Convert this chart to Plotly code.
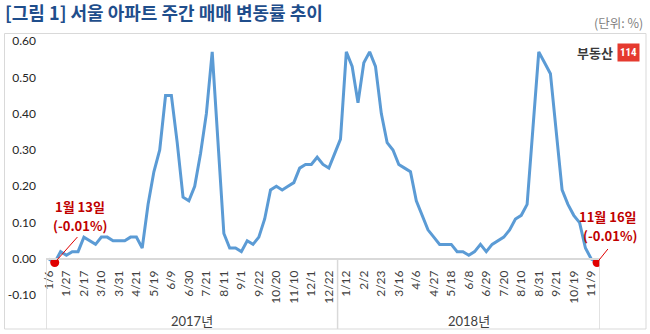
import plotly.graph_objects as go

# Weekly survey dates (missing holiday weeks are simply absent)
weeks_2017 = ["1/6", "1/13", "1/20", "1/27", "2/3", "2/10", "2/17", "2/24", "3/3", "3/10",
              "3/17", "3/24", "3/31", "4/7", "4/14", "4/21", "4/28", "5/12", "5/19", "5/26",
              "6/2", "6/9", "6/16", "6/23", "6/30", "7/7", "7/14", "7/21", "7/28", "8/4",
              "8/11", "8/18", "8/25", "9/1", "9/8", "9/15", "9/22", "9/29", "10/13", "10/20",
              "10/27", "11/3", "11/10", "11/17", "11/24", "12/1", "12/8", "12/15", "12/22", "12/29"]
weeks_2018 = ["1/5", "1/12", "1/19", "1/26", "2/2", "2/9", "2/16", "2/23", "3/2", "3/9",
              "3/16", "3/23", "3/30", "4/6", "4/13", "4/20", "4/27", "5/4", "5/11", "5/18",
              "5/25", "6/1", "6/8", "6/15", "6/22", "6/29", "7/6", "7/13", "7/20", "7/27",
              "8/3", "8/10", "8/17", "8/24", "8/31", "9/7", "9/14", "9/21", "10/5", "10/12",
              "10/19", "10/26", "11/2", "11/9", "11/16"]

# Weekly change of Seoul apartment sale prices (%)
chg_2017 = [0.00, -0.01, 0.02, 0.01, 0.02, 0.02, 0.06, 0.05, 0.04, 0.06,
            0.06, 0.05, 0.05, 0.05, 0.06, 0.06, 0.03, 0.15, 0.24, 0.30,
            0.45, 0.45, 0.32, 0.17, 0.16, 0.20, 0.29, 0.40, 0.57, 0.32,
            0.07, 0.03, 0.03, 0.02, 0.05, 0.04, 0.06, 0.11, 0.19, 0.20,
            0.19, 0.20, 0.21, 0.25, 0.26, 0.26, 0.28, 0.26, 0.25, 0.29]
chg_2018 = [0.33, 0.57, 0.53, 0.43, 0.54, 0.57, 0.53, 0.40, 0.32, 0.30,
            0.26, 0.25, 0.24, 0.16, 0.12, 0.08, 0.06, 0.04, 0.04, 0.04,
            0.02, 0.02, 0.01, 0.02, 0.04, 0.02, 0.04, 0.05, 0.06, 0.08,
            0.11, 0.12, 0.15, 0.36, 0.57, 0.54, 0.51, 0.35, 0.19, 0.15,
            0.12, 0.10, 0.03, 0.00, -0.01]

years = ["2017년", "2018년"]
y_ticks = [-0.10, 0.00, 0.10, 0.20, 0.30, 0.40, 0.50, 0.60]
y_tick_labels = ["-0.10", "0.00", "0.10", "0.20", "0.30", "0.40", "0.50", "0.60"]

# category keys carry the year so every week is unique
x_cat = [f"2017|{w}" for w in weeks_2017] + [f"2018|{w}" for w in weeks_2018]
x_lab = weeks_2017 + weeks_2018
y_val = chg_2017 + chg_2018
n = len(x_cat)
n17 = len(weeks_2017)

# highlighted weeks: first and last negative readings
hi_idx = [1, n - 1]
hi_names = ["1월 13일", "11월 16일"]

W, H = 650, 334
ML, MR, MT, MB = 46, 50, 35, 5
PW, PH = W - ML - MR, H - MT - MB
YMIN, YMAX = -0.193, 0.6165


def px(xp):
    return (xp - ML) / PW


def py(yp):
    return (H - MB - yp) / PH


LINE_BLUE = "#5b9bd5"
RED = "#e00000"
DARK_RED = "#c00000"
GRID = "#d9d9d9"
TXT = "#404040"
NUM_FONT = "Lato, Noto Sans CJK KR, sans-serif"
KR_FONT = "Noto Sans CJK KR, sans-serif"

fig = go.Figure()
fig.add_trace(go.Scatter(
    x=x_cat, y=y_val, mode="lines",
    line=dict(color=LINE_BLUE, width=3),
    hoverinfo="skip", showlegend=False,
))
fig.add_trace(go.Scatter(
    x=[x_cat[i] for i in hi_idx], y=[y_val[i] for i in hi_idx], mode="markers",
    marker=dict(color=RED, size=9),
    hoverinfo="skip", showlegend=False,
))

shapes = [
    # outer chart frame
    dict(type="rect", xref="paper", yref="paper",
         x0=px(4.5), x1=px(646), y0=py(329), y1=py(33.5),
         line=dict(color=GRID, width=1), layer="below"),
]
# group dividers below the category axis
for xd in [-0.5, n17 - 0.5, n - 0.5]:
    shapes.append(dict(type="line", xref="x", yref="y", x0=xd, x1=xd, y0=YMIN, y1=0,
                       line=dict(color=GRID, width=1.5)))

annotations = []
# year group labels
for label, (a, b) in zip(years, [(-0.5, n17 - 0.5), (n17 - 0.5, n - 0.5)]):
    annotations.append(dict(x=(a + b) / 2, y=-0.172, xref="x", yref="y", text=label,
                            showarrow=False, font=dict(family=NUM_FONT, size=13, color=TXT)))

# callouts for the highlighted weeks
callouts = [((80, 206), (80, 226), (24, -27)), ((608, 216), (610, 235), (12, -15))]
for i, name, (p1, p2, off) in zip(hi_idx, hi_names, callouts):
    annotations.append(dict(x=x_cat[i], y=y_val[i], xref="x", yref="y", text="",
                            showarrow=True, arrowhead=0, arrowwidth=1, arrowcolor=RED,
                            ax=off[0], ay=off[1], standoff=0))
    annotations.append(dict(x=px(p1[0]), y=py(p1[1]), xref="paper", yref="paper", text=f"<b>{name}</b>",
                            showarrow=False, xanchor="center", yanchor="middle",
                            font=dict(family=KR_FONT, size=13, color=DARK_RED)))
    annotations.append(dict(x=px(p2[0]), y=py(p2[1]), xref="paper", yref="paper",
                            text=f"<b>({y_val[i]:.2f}%)</b>",
                            showarrow=False, xanchor="center", yanchor="middle",
                            font=dict(family=KR_FONT, size=13, color=DARK_RED)))

# unit note
annotations.append(dict(x=px(645), y=py(23), xref="paper", yref="paper", text="(단위: %)",
                        showarrow=False, xanchor="right", yanchor="middle",
                        font=dict(family=KR_FONT, size=12.5, color="#7f7f7f")))
# brand mark
annotations.append(dict(x=px(615), y=py(53), xref="paper", yref="paper", text="<b>부동산</b>",
                        showarrow=False, xanchor="right", yanchor="middle",
                        font=dict(family=KR_FONT, size=13, color="#3a3a3a")))
annotations.append(dict(x=px(617), y=py(53), xref="paper", yref="paper", text="<b>114</b>",
                        showarrow=False, xanchor="left", yanchor="middle", bgcolor="#e53a2f",
                        borderpad=2, font=dict(family="Roboto Condensed, Roboto, sans-serif", size=11, color="white")))

fig.update_layout(
    width=W, height=H,
    margin=dict(l=ML, r=MR, t=MT, b=MB, autoexpand=False),
    paper_bgcolor="white", plot_bgcolor="white",
    title=dict(text="<b>[그림 1] 서울 아파트 주간 매매 변동률 추이</b>",
               x=5 / W, xanchor="left", y=1 - 14 / H, yanchor="middle",
               font=dict(family=KR_FONT, size=18, color="#1f4e8c")),
    xaxis=dict(type="category", range=[-0.5, n - 0.5],
               tickmode="array", tickvals=x_cat[::3], ticktext=x_lab[::3],
               tickangle=-90, ticks="", showgrid=False, zeroline=False,
               showline=True, linecolor=GRID, linewidth=1.5,
               anchor="free", position=(0 - YMIN) / (YMAX - YMIN),
               ticklabelstandoff=6,
               tickfont=dict(family=NUM_FONT, size=12, color=TXT)),
    yaxis=dict(range=[YMIN, YMAX], tickmode="array", tickvals=y_ticks, ticktext=y_tick_labels,
               ticks="", showgrid=False, zeroline=False, showline=False,
               ticklabelstandoff=9,
               tickfont=dict(family=NUM_FONT, size=12, color="#262626")),
    shapes=shapes, annotations=annotations,
)

fig.write_html("out.html")
